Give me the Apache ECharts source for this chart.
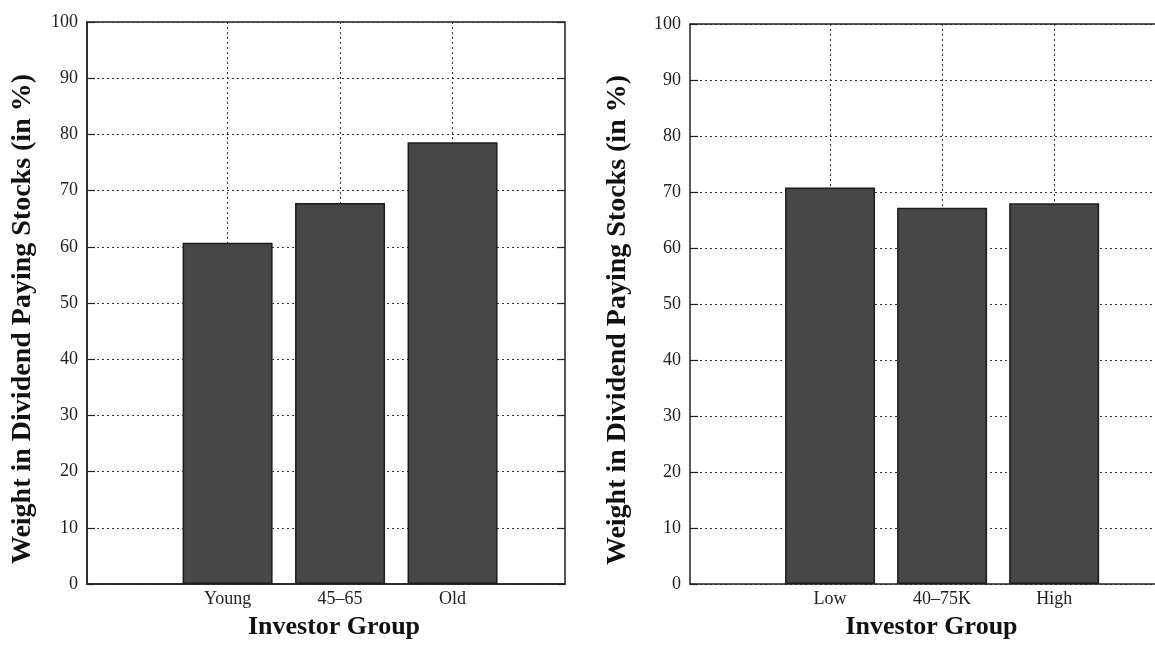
<!DOCTYPE html>
<html>
<head>
<meta charset="utf-8">
<script src="https://cdn.jsdelivr.net/npm/echarts@6/dist/echarts.min.js"></script>
<style>
html,body{margin:0;padding:0;background:#fff;}
#chart{width:1155px;height:645px;}
</style>
</head>
<body>
<div id="chart"></div>
<script>
// ---- data ----
const ageGroups = ['Young', '45\u201365', 'Old'];
const ageValues = [60.7, 67.8, 78.6];
const incomeGroups = ['Low', '40\u201375K', 'High'];
const incomeValues = [70.8, 67.2, 68.0];
const barPositions = [1, 2, 3];
const yAxisTitle = 'Weight in Dividend Paying Stocks (in %)';
const xAxisTitle = 'Investor Group';

const serif = '"Liberation Serif", "Times New Roman", serif';
const gridDash = {color: '#333', width: 1, type: [2, 3]};
const axisLineStyle = {color: '#222', width: 1.5};

function xAxisFor(gridIndex, names, xMax, titlePad) {
  return {
    type: 'value', gridIndex: gridIndex, min: -0.25, max: xMax,
    axisLine: {show: true, onZero: false, lineStyle: axisLineStyle},
    axisTick: {show: false, customValues: barPositions},
    axisLabel: {
      customValues: barPositions, margin: 6,
      fontFamily: serif, fontSize: 18, color: '#222',
      formatter: function (v) { return names[barPositions.indexOf(v)] || ''; }
    },
    splitLine: {show: true, lineStyle: gridDash},
    name: xAxisTitle, nameLocation: 'middle', nameGap: 30,
    nameTextStyle: {fontFamily: serif, fontSize: 26, fontWeight: 'bold', color: '#111', padding: titlePad}
  };
}
function yAxisFor(gridIndex, gap) {
  return {
    type: 'value', gridIndex: gridIndex, min: 0, max: 100, interval: 10,
    axisLine: {show: true, onZero: false, lineStyle: axisLineStyle},
    axisTick: {show: true, inside: true, length: 8, lineStyle: {color: '#222', width: 1.2}},
    axisLabel: {margin: 9, fontFamily: serif, fontSize: 18, color: '#222'},
    splitLine: {show: true, lineStyle: gridDash},
    name: yAxisTitle, nameLocation: 'middle', nameGap: gap, nameRotate: 90,
    nameTextStyle: {fontFamily: serif, fontSize: 28, fontWeight: 'bold', color: '#111', padding: [0, 32, 0, 0]}
  };
}
function barSeries(idx, values) {
  return {
    type: 'bar', xAxisIndex: idx, yAxisIndex: idx,
    data: barPositions.map(function (p, i) { return [p, values[i]]; }),
    barWidth: 90,
    itemStyle: {color: '#474747', borderColor: '#1c1c1c', borderWidth: 1.5},
    silent: true
  };
}

const chart = echarts.init(document.getElementById('chart'), null, {renderer: 'canvas'});
chart.setOption({
  animation: false,
  backgroundColor: '#fff',
  grid: [
    {left: 87, width: 478, top: 22, bottom: 59, show: true, borderColor: '#222', borderWidth: 1.5, containLabel: false},
    {left: 690, right: 0, top: 24, bottom: 55, show: false, containLabel: false}
  ],
  xAxis: [
    xAxisFor(0, ageGroups, 4, [0, 0, 0, 16]),
    xAxisFor(1, incomeGroups, 3.9, [0, 0, 0, 18]),
    {type: 'value', gridIndex: 1, position: 'top', min: -0.25, max: 3.9,
     axisLine: {show: true, onZero: false, lineStyle: axisLineStyle},
     axisTick: {show: false}, axisLabel: {show: false}, splitLine: {show: false}}
  ],
  yAxis: [
    yAxisFor(0, 50), yAxisFor(1, 58),
    {type: 'value', gridIndex: 0, position: 'right', min: 0, max: 100, interval: 10,
     axisLine: {show: false, onZero: false}, axisLabel: {show: false}, splitLine: {show: false},
     axisTick: {show: true, inside: true, length: 8, lineStyle: {color: '#222', width: 1.2}}}
  ],
  series: [barSeries(0, ageValues), barSeries(1, incomeValues)]
});
</script>
</body>
</html>
